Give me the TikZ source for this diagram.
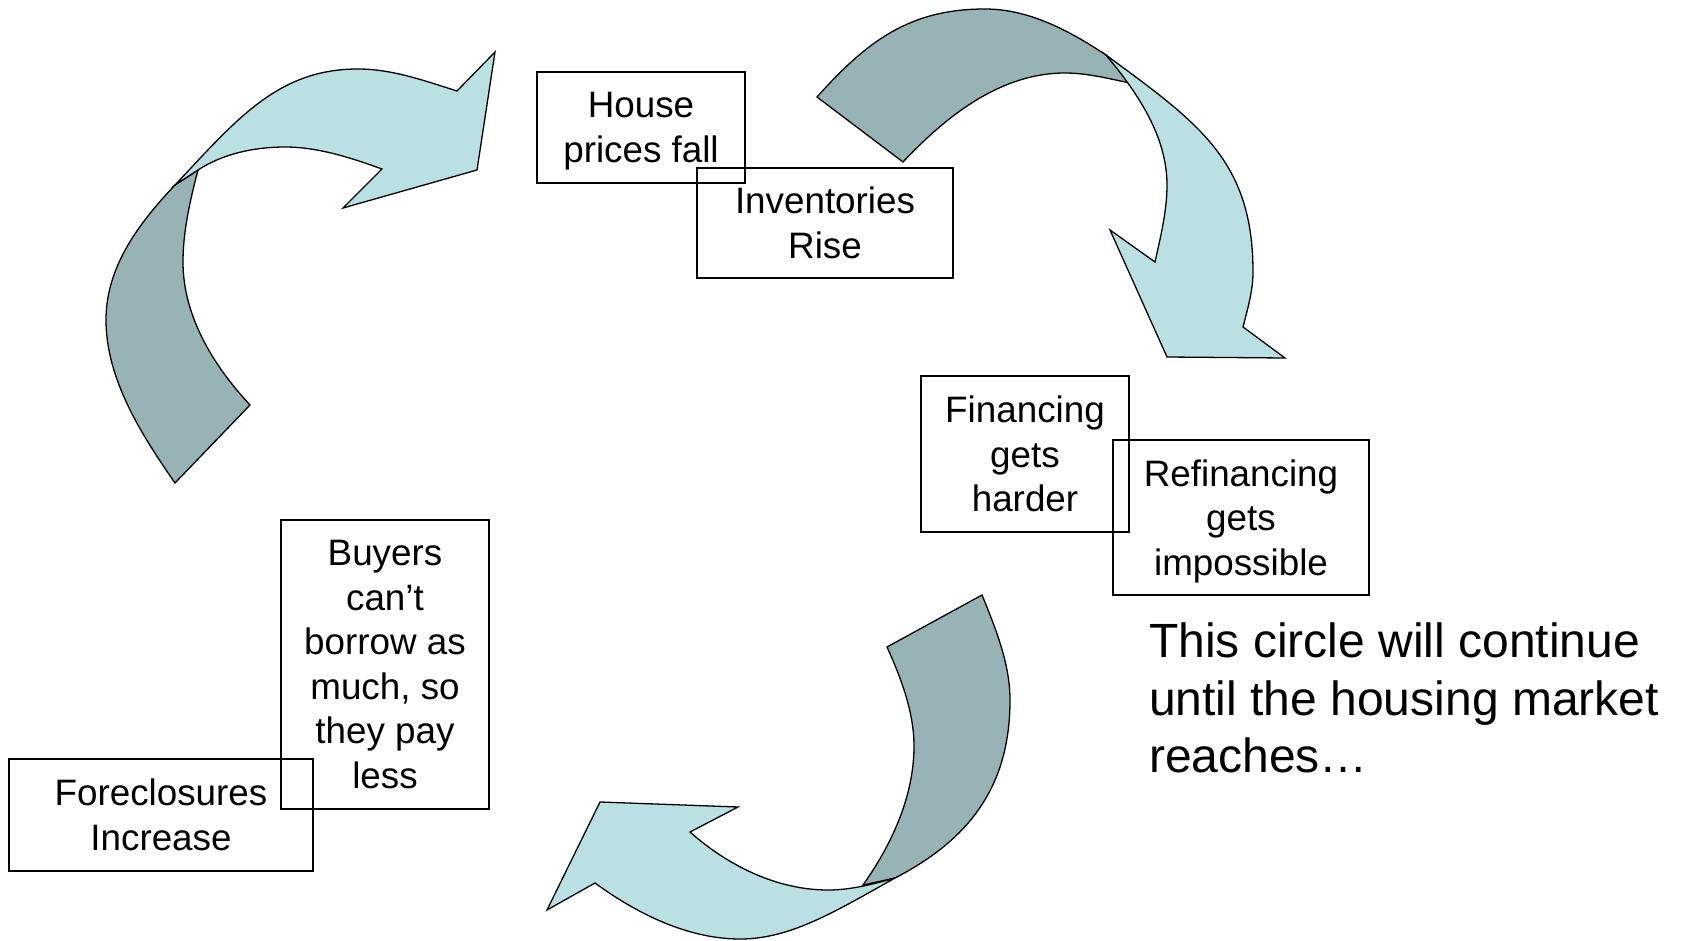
\documentclass[tikz,border=0pt]{standalone}
\usepackage{fontspec}
\setmainfont{Liberation Sans}
\newcommand{\boxtext}{\fontsize{36.8}{44.5}\selectfont}
\newcommand{\notetext}{\fontsize{48}{57.5}\selectfont}
\newcommand{\nodescent}[1]{\raisebox{0pt}[\height][0pt]{#1}}
\definecolor{lightband}{RGB}{187,224,227}
\definecolor{darkband}{RGB}{152,179,182}

\begin{document}
\begin{tikzpicture}[x=1pt,y=-1pt,
            cadre/.style={draw, line width=1.3pt, inner sep=0pt, align=center, font=\boxtext},
            light/.style={fill=lightband, draw, line width=1.3pt},
            dark/.style={fill=darkband, draw, line width=1.3pt}]
            \useasboundingbox (0,0) rectangle (1681,941);
            \draw[dark] (175,483) .. controls (141.4,434.6) and (106,379) .. (106,320)
                .. controls (106,267) and (138.4,223.7) .. (175,185)
                -- (198,170) .. controls (190.2,200) and (183,231) .. (183,262)
                .. controls (183,316) and (213.3,365.6) .. (250,405) -- cycle;
            \draw[light] (175,185) .. controls (237,119) and (278,69) .. (358,69)
                .. controls (392,69) and (424.7,80.8) .. (457,91)
                -- (495,52) -- (477,170) -- (343,208) -- (382,169)
                .. controls (351,157.8) and (318,147) .. (285,147)
                .. controls (255,147) and (223.2,153.5) .. (198,170) -- cycle;
            \draw[dark] (817,97) .. controls (867.3,40.75) and (910,9) .. (985,9)
                .. controls (1029,9) and (1069.5,30.8) .. (1106,55)
                -- (1130,83) .. controls (1108.4,78.6) and (1087,73) .. (1065,73)
                .. controls (1001,73) and (947,115.3) .. (903,162) -- cycle;
            \draw[light] (1106,55) .. controls (1198,122.9) and (1253,160) .. (1253,272)
                .. controls (1253,291) and (1247.6,308.6) .. (1243,327)
                -- (1285,358) -- (1167,357) -- (1110,230) -- (1155,262)
                .. controls (1160.6,236.6) and (1167,211) .. (1167,185)
                .. controls (1167,136) and (1137.4,92.7) .. (1106,55) -- cycle;
            \draw[dark] (982,595) .. controls (995.7,628.5) and (1010,664) .. (1010,700)
                .. controls (1010,785) and (970.7,838.9) .. (895,878)
                -- (863,885) .. controls (892,844) and (914,796) .. (914,746)
                .. controls (914,712) and (901,678) .. (887,647) -- cycle;
            \draw[light] (895,878) .. controls (834,912.3) and (790,939) .. (740,939)
                .. controls (688,939) and (637,913.7) .. (595,883)
                -- (547,910) -- (600,802) -- (738,807) -- (690,832)
                .. controls (728,865.7) and (777,890) .. (828,890)
                .. controls (851,890) and (873,884.2) .. (895,878) -- cycle;
            \node[cadre, minimum width=208pt, minimum height=111pt] (house) at (641,127.5) {House\\\nodescent{prices fall}};
            \node[cadre, minimum width=256pt, minimum height=110pt] (inventories) at (825,223) {Inventories\\Rise};
            \node[cadre, minimum width=208pt, minimum height=156pt] (financing) at (1025,454) {Financing\\gets\\harder};
            \node[cadre, minimum width=256pt, minimum height=155pt] (refinancing) at (1241,517.5) {Refinancing\\gets\\\nodescent{impossible}};
            \node[cadre, minimum width=208pt, minimum height=289pt] (buyers) at (385,664.5) {Buyers\\can’t\\borrow as\\much, so\\they pay\\less};
            \node[cadre, minimum width=304pt, minimum height=112pt] (foreclosures) at (161,815) {Foreclosures\\Increase};
            \node[anchor=north west, inner sep=0pt, align=left, font=\notetext] (note) at (1149,623) {This circle will continue\\until the housing market\\reaches…};
        \end{tikzpicture}
\end{document}
